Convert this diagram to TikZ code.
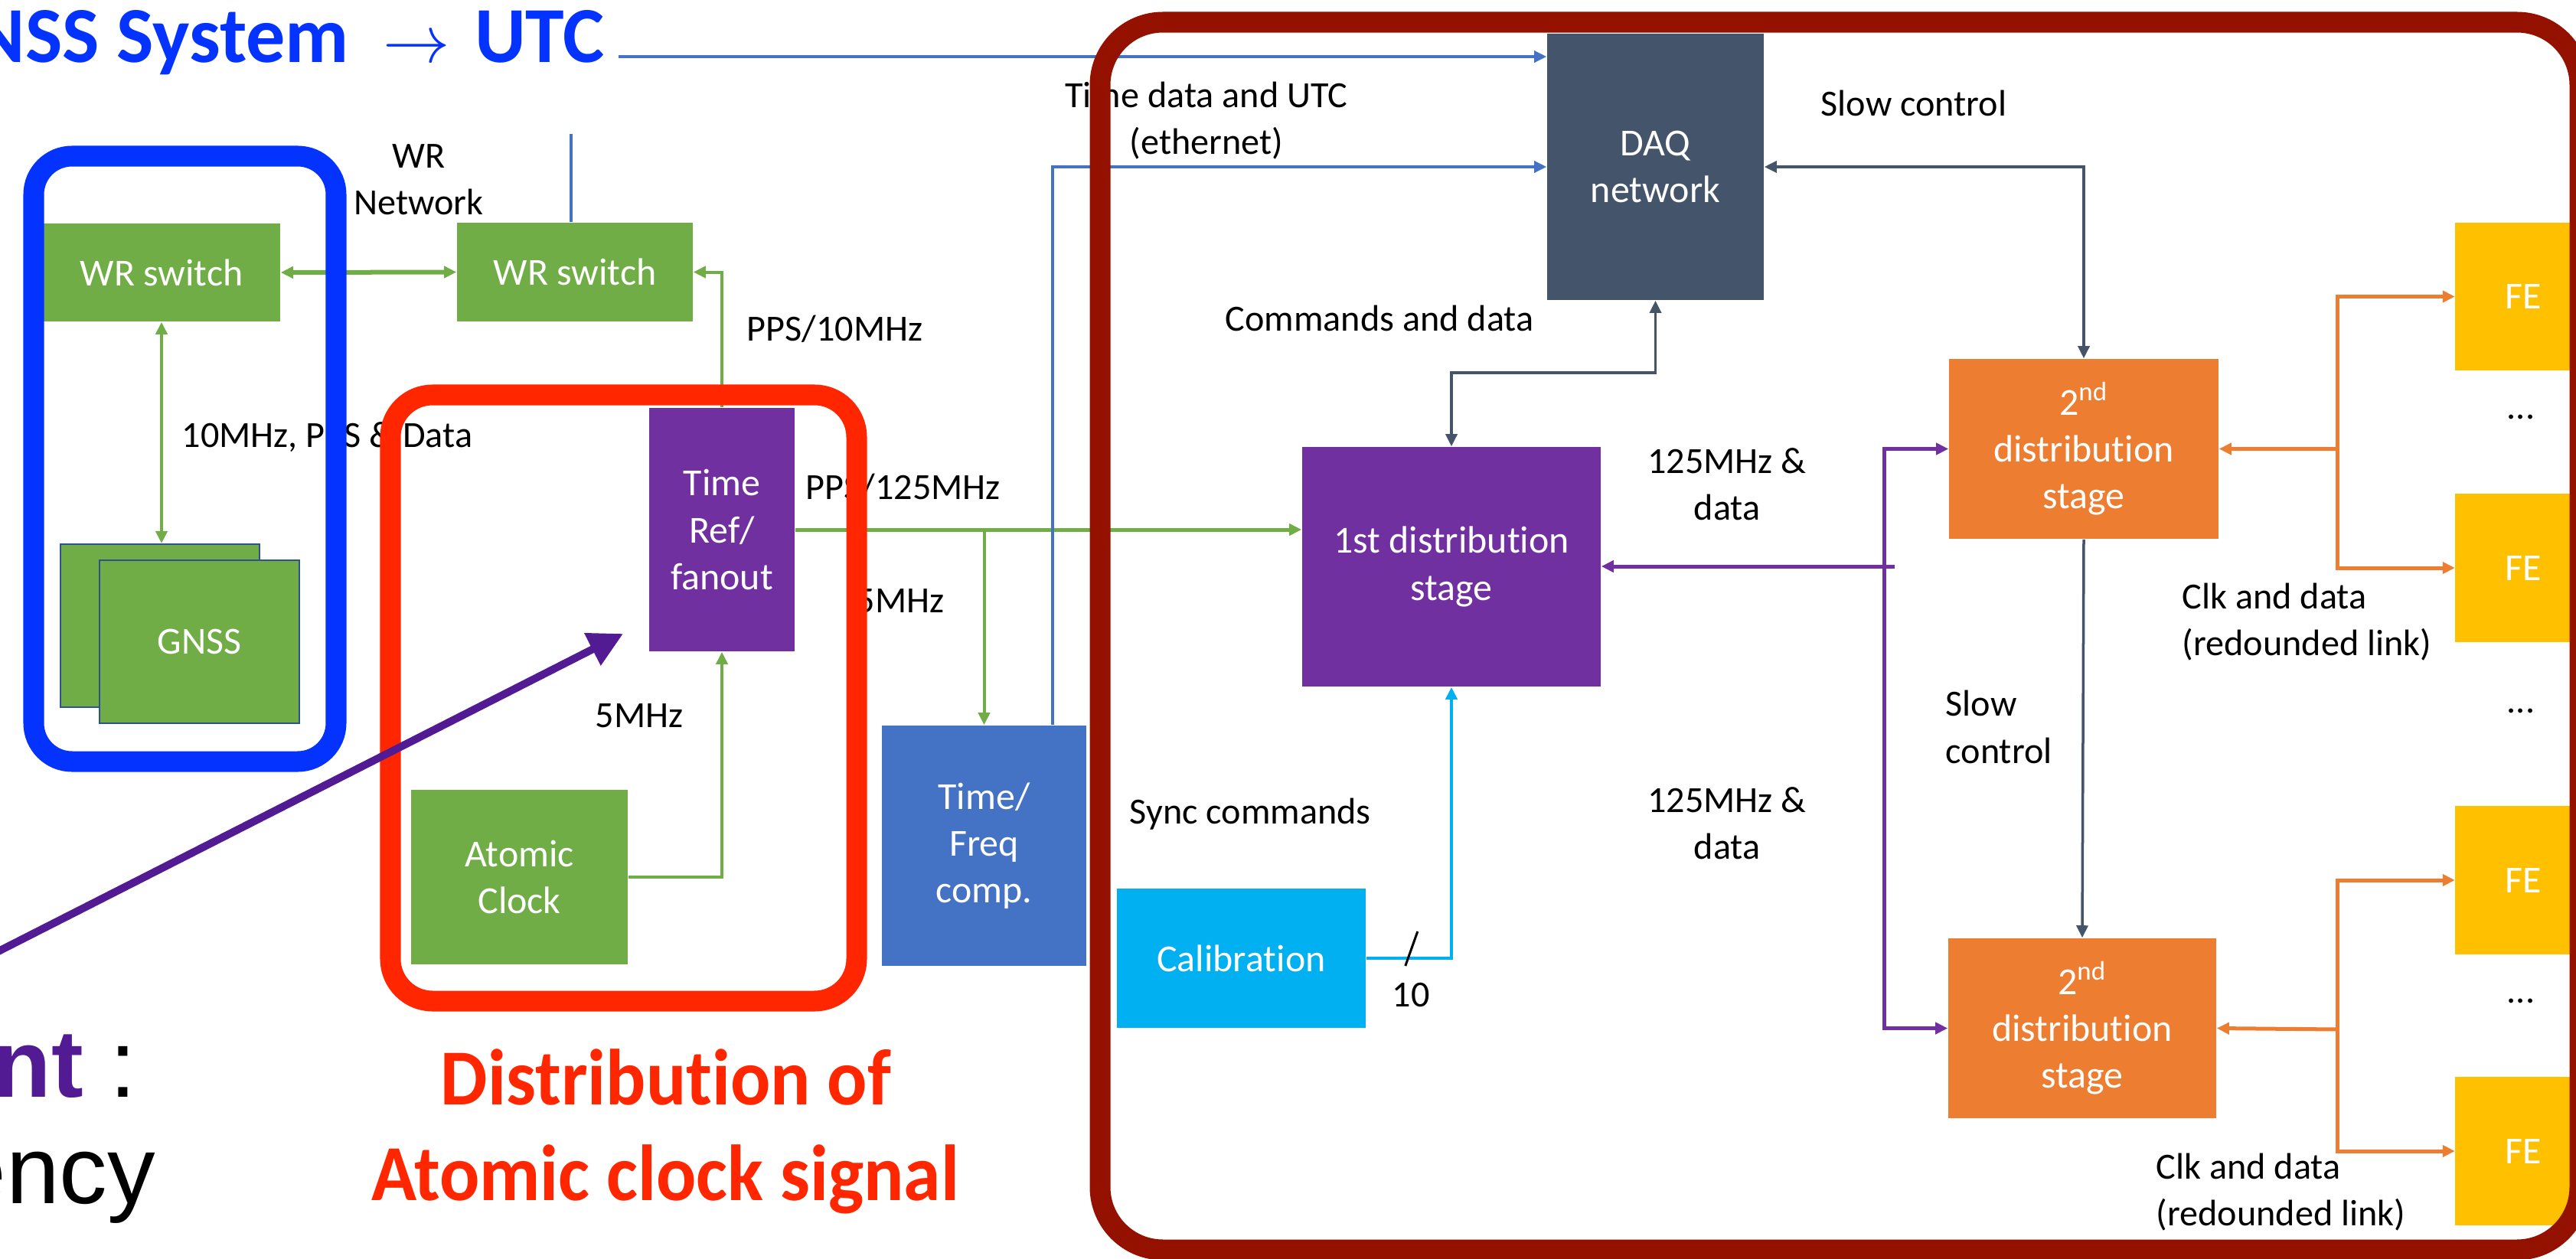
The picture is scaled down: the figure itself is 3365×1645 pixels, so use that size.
\documentclass[tikz,border=0pt]{standalone}
\usepackage{fontspec}
\setmainfont{Carlito}[Ligatures=NoCommon]
\newfontfamily\headfont[FakeStretch=0.94,Ligatures=NoCommon]{Carlito}
\newfontfamily\titlefont[FakeStretch=0.985,Ligatures=NoCommon]{Carlito}
\newfontfamily\helvfont{Liberation Sans}
\usetikzlibrary{arrows.meta,calc}

% palette
\definecolor{boxgreen}{HTML}{70AD47}
\definecolor{boxpurple}{HTML}{7030A0}
\definecolor{boxslate}{HTML}{44546A}
\definecolor{boxorange}{HTML}{ED7D31}
\definecolor{boxyellow}{HTML}{FFC000}
\definecolor{boxblue}{HTML}{4472C4}
\definecolor{boxcyan}{HTML}{00B0F0}
\definecolor{gnssedge}{HTML}{2F528F}
\definecolor{titleblue}{HTML}{0433FF}
\definecolor{framered}{HTML}{FF2600}
\definecolor{framedark}{HTML}{941100}
\definecolor{notepurple}{HTML}{531B93}

\newcommand\lblsize{\fontsize{13.7pt}{17.4pt}\selectfont}
\newcommand\boxsize{\fontsize{14.2pt}{17.4pt}\selectfont}
\newcommand\headsize{\headfont\bfseries\fontsize{29.5pt}{35.6pt}\selectfont}
\newcommand\titlesize{\titlefont\bfseries\fontsize{29.5pt}{35.6pt}\selectfont}
\newcommand\notesize{\helvfont\fontsize{35.6pt}{40pt}\selectfont}

\tikzset{
  >={Triangle[length=0.16cm,width=0.15cm]},
  box/.style={inner sep=0pt, align=center, text=white, font=\boxsize},
  gbox/.style={box, fill=boxgreen},
  febox/.style={box, fill=boxyellow, minimum width=1.77cm, minimum height=1.93cm},
  lbl/.style={inner sep=0pt, align=left, font=\lblsize},
  lblc/.style={inner sep=0pt, align=center, font=\lblsize},
  gline/.style={draw=boxgreen, line width=0.04cm},
  bline/.style={draw=boxblue, line width=0.035cm},
  sline/.style={draw=boxslate, line width=0.035cm},
  pline/.style={draw=boxpurple, line width=0.05cm},
  oline/.style={draw=boxorange, line width=0.05cm},
  cline/.style={draw=boxcyan, line width=0.04cm},
  frame/.style={line width=0.27cm},
}

\begin{document}
\begin{tikzpicture}[x=0.01cm,y=-0.01cm]
\useasboundingbox (0,0) rectangle (3365,1645);

% ---------- blocks ----------
\node[gbox, minimum width=3.10cm, minimum height=1.28cm] (wrL) at (211,356) {WR switch};
\node[gbox, minimum width=3.08cm, minimum height=1.29cm] (wrR) at (751,355.5) {WR switch};
\node[gbox, draw=gnssedge, line width=0.02cm, minimum width=2.60cm, minimum height=2.13cm] (gnssB) at (209,817.5) {};
\node[gbox, draw=gnssedge, line width=0.02cm, minimum width=2.61cm, minimum height=2.13cm] (gnssF) at (260.5,838.5) {GNSS};
\node[box, fill=boxpurple, minimum width=1.90cm, minimum height=3.18cm] (tref) at (943,692) {Time\\Ref/\\fanout};
\node[gbox, minimum width=2.83cm, minimum height=2.28cm] (atom) at (678.5,1146) {Atomic\\Clock};
\node[box, fill=boxblue, minimum width=2.67cm, minimum height=3.14cm] (tfc) at (1285.5,1105) {Time/\\Freq\\comp.};
\node[box, fill=boxslate, minimum width=2.83cm, minimum height=3.48cm] (daq) at (2162.5,218) {DAQ\\network};
\node[box, fill=boxpurple, minimum width=3.90cm, minimum height=3.13cm] (d1) at (1896,740.5) {1st distribution\\stage};
\node[box, fill=boxorange, minimum width=3.52cm, minimum height=2.35cm] (d2a) at (2722,586.5) {2\textsuperscript{nd}\\distribution\\stage};
\node[box, fill=boxorange, minimum width=3.50cm, minimum height=2.35cm] (d2b) at (2720,1343.5) {2\textsuperscript{nd}\\distribution\\stage};
\node[box, fill=boxcyan, minimum width=3.25cm, minimum height=1.82cm] (cal) at (1621.5,1252) {Calibration};
\node[febox] (fe1) at (3296,387.5) {FE};
\node[febox] (fe2) at (3296,742) {FE};
\node[febox] (fe3) at (3296,1150) {FE};
\node[febox] (fe4) at (3296,1504) {FE};

% ---------- text labels ----------
\node[anchor=base west, inner sep=0pt, text=titleblue, font=\titlesize] (title) at (-35,81)
  {NSS System\hspace{0.45cm}$\rightarrow$\hspace{0.32cm}UTC};
\node[lblc] (wrnet) at (547,235) {WR\\Network};
\node[lbl, anchor=west] (gnsslink) at (237,571) {10MHz, PPS \& Data};
\node[lbl, anchor=west] (pps10) at (975,430) {PPS/10MHz};
\node[lbl, anchor=base west] (pps125) at (1052,652) {PPS/125MHz};
\node[lbl, anchor=base west] (fivemhzA) at (1118,800) {5MHz};
\node[lbl, anchor=west] (fivemhzB) at (777,935) {5MHz};
\node[lblc] (utclbl) at (1576,158) {Time data and UTC\\(ethernet)};
\node[lbl, anchor=west] (cmdlbl) at (1600,416) {Commands and data};
\node[lbl, anchor=west] (slowA) at (2378,135) {Slow control};
\node[lblc] (mhzA) at (2256,633) {125MHz \&\\data};
\node[lblc] (mhzB) at (2256,1076) {125MHz \&\\data};
\node[lbl, anchor=west] (synclbl) at (1475,1064) {Sync commands};
\node[lbl, anchor=west] (slowB) at (2541,950) {Slow\\control};
\node[lbl, anchor=west] (clkA) at (2850,813) {Clk and data\\(redounded link)};
\node[lbl, anchor=west] (clkB) at (2816,1558) {Clk and data\\(redounded link)};
\node[lblc, anchor=base] (dotsA) at (3293,547) {...};
\node[lblc, anchor=base] (dotsB) at (3293,931) {...};
\node[lblc, anchor=base] (dotsC) at (3293,1310) {...};
\node[lblc] (ten) at (1843,1300) {10};

\node[anchor=base, inner sep=0pt, text=framered, font=\headsize] (distA) at (870,1443) {Distribution of};
\node[anchor=base, inner sep=0pt, text=framered, font=\headsize] (distB) at (869,1568) {Atomic clock signal};
\node[anchor=base west, inner sep=0pt, font=\notesize] (noteA) at (-10,1433) {{\color{notepurple}\bfseries nt} :};
\node[anchor=base west, inner sep=0pt, font=\notesize] (noteB) at (-62,1572) {ency};

% ---------- connectors ----------
\draw[bline,->] ($(title.base east)+(18,-7)$) -- ($(daq.west |- title.base east)+(0,-7)$);
\coordinate (wrup) at (746,175);
\draw[bline] (wrR.north -| wrup) -- (wrup);
\draw[gline,line width=0.06cm,<->] (wrL.east) -- (wrR.west);
\draw[gline,<->] (wrL.south) -- (wrL.south |- gnssB.north);
\draw[gline,->] (tref.north) |- (wrR.east);
\draw[gline,->] (atom.east) -| (tref.south);
\draw[gline,line width=0.05cm,->] (tref.east) -- (tref.east -| d1.west);
\draw[gline,->] (tref.east -| tfc.north) -- (tfc.north);
\draw[bline,->] ([xshift=-0.45cm]tfc.north east) |- (daq.west);
\draw[sline,<->] (daq.south) -- ++(0,94) -| (d1.north);
\draw[sline,<->] (daq.east) -| (d2a.north);
\draw[sline,->] (d2a.south) -- (d2b.north);

\coordinate (pv) at (2461,740);
\draw[pline,->] ([xshift=0.14cm]pv) -- (pv -| d1.east);
\draw[pline,->] (pv) |- (d2a.west);
\draw[pline,->] (pv) |- (d2b.west);

\coordinate (oa) at (3053,586.5);
\draw[oline,->] (oa) -- (d2a.east);
\draw[oline,->] (oa) |- (fe1.west);
\draw[oline,->] (oa) |- (fe2.west);
\coordinate (ob) at (3053,1345);
\draw[oline,->] (ob) -- (d2b.east);
\draw[oline,->] (ob) |- (fe3.west);
\draw[oline,->] (ob) |- (fe4.west);

\draw[cline,->] (cal.east) -| (d1.south);
\draw[line width=0.03cm] ($(cal.east)+(67,-35)$) -- ($(cal.east)+(51,10)$);

% ---------- grouping frames ----------
\draw[frame, draw=titleblue, rounded corners=0.5cm] (44,204) rectangle (439,995);
\draw[frame, draw=framered, rounded corners=0.55cm] (510,516) rectangle (1119,1308);
\draw[frame, draw=framedark, rounded corners=0.82cm] (1437,29) rectangle (3370,1633);

% ---------- pointer ----------
\coordinate (ptail) at (-10,1247);
\coordinate (phead) at (814,828);
\draw[draw=notepurple, line width=0.1cm, -{Triangle[length=0.45cm,width=0.45cm]}] (ptail) -- (phead);
\end{tikzpicture}
\end{document}
